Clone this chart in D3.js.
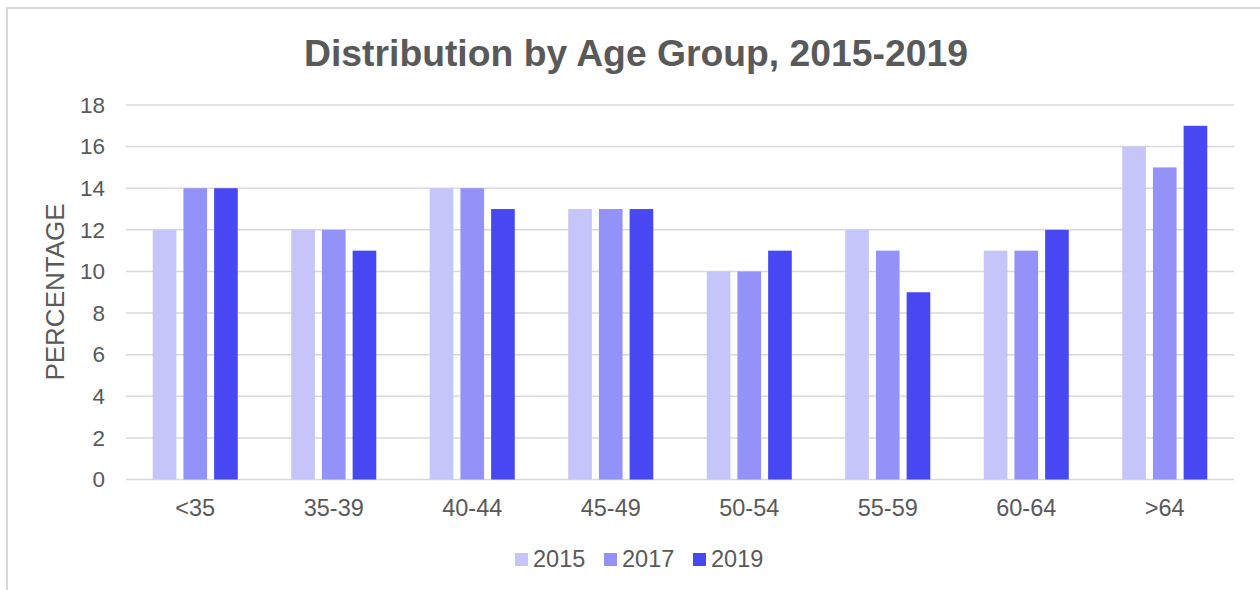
<!DOCTYPE html>
<html>
<head>
<meta charset="utf-8">
<script src="https://cdn.jsdelivr.net/npm/d3@7"></script>
<style>
  body { margin: 0; background: #fff; }
  svg { display: block; font-family: "Liberation Sans", Arial, sans-serif; }
</style>
</head>
<body>
<div id="chart"></div>
<script>
// data
const ageGroups = ["<35", "35-39", "40-44", "45-49", "50-54", "55-59", "60-64", ">64"];
const years = ["2015", "2017", "2019"];
const values2015 = [12, 12, 14, 13, 10, 12, 11, 16];
const values2017 = [14, 12, 14, 13, 10, 11, 11, 15];
const values2019 = [14, 11, 13, 13, 11, 9, 12, 17];
const yTicks = [0, 2, 4, 6, 8, 10, 12, 14, 16, 18];
const yearColors = ["#C5C5FA", "#9292F8", "#4848F2"];

const series = [values2015, values2017, values2019];

const width = 1260, height = 590;
const textColor = "#595959";
const gridColor = "#D9D9D9";

const svg = d3.select("#chart").append("svg")
  .attr("width", width)
  .attr("height", height);

// chart border (only top/left inside the frame)
svg.append("rect")
  .attr("x", 7).attr("y", 8)
  .attr("width", width + 20).attr("height", height + 20)
  .attr("fill", "none")
  .attr("stroke", gridColor)
  .attr("stroke-width", 2);

const plot = { left: 126, right: 1234, top: 105, bottom: 479.5 };

const x0 = d3.scaleBand()
  .domain(ageGroups)
  .range([plot.left, plot.right])
  .paddingInner(0.386)
  .paddingOuter(0.193);

const x1 = d3.scaleBand()
  .domain(years)
  .range([0, x0.bandwidth()])
  .paddingInner(0.23);

const y = d3.scaleLinear()
  .domain([0, 18])
  .range([plot.bottom, plot.top]);

// title
svg.append("text")
  .attr("x", 636)
  .attr("y", 66)
  .attr("text-anchor", "middle")
  .attr("font-size", 37.3)
  .attr("font-weight", "bold")
  .attr("fill", textColor)
  .text("Distribution by Age Group, 2015-2019");

// gridlines
svg.append("g")
  .selectAll("line")
  .data(yTicks)
  .join("line")
  .attr("x1", plot.left)
  .attr("x2", plot.right)
  .attr("y1", d => y(d))
  .attr("y2", d => y(d))
  .attr("stroke", gridColor)
  .attr("stroke-width", 1.5);

// y axis labels
const yAxis = svg.append("g")
  .attr("transform", `translate(${plot.left - 21},0)`)
  .call(d3.axisLeft(y).tickValues(yTicks).tickSize(0).tickPadding(0));
yAxis.select(".domain").remove();
yAxis.selectAll("text")
  .attr("font-size", 22.5)
  .attr("font-family", "Liberation Sans, Arial, sans-serif")
  .attr("fill", textColor);

// bars
const groups = svg.append("g")
  .selectAll("g")
  .data(ageGroups)
  .join("g")
  .attr("transform", d => `translate(${x0(d)},0)`);

groups.selectAll("rect")
  .data((d, i) => years.map((yr, j) => ({ year: yr, value: series[j][i], color: yearColors[j] })))
  .join("rect")
  .attr("x", d => x1(d.year))
  .attr("y", d => y(d.value))
  .attr("width", x1.bandwidth())
  .attr("height", d => y(0) - y(d.value))
  .attr("fill", d => d.color);

// x axis labels
const xAxis = svg.append("g")
  .attr("transform", `translate(0,${plot.bottom})`)
  .call(d3.axisBottom(x0).tickSize(0).tickPadding(20));
xAxis.select(".domain").remove();
xAxis.selectAll("text")
  .attr("font-size", 23.5)
  .attr("font-family", "Liberation Sans, Arial, sans-serif")
  .attr("fill", textColor);

// y axis title
svg.append("text")
  .attr("transform", `translate(64,292) rotate(-90)`)
  .attr("text-anchor", "middle")
  .attr("font-size", 26)
  .attr("fill", textColor)
  .text("PERCENTAGE");

// legend
const legend = svg.append("g")
  .attr("transform", "translate(515,553)");

const items = legend.selectAll("g")
  .data(years)
  .join("g")
  .attr("transform", (d, i) => `translate(${i * 89},0)`);

items.append("rect")
  .attr("width", 13)
  .attr("height", 13)
  .attr("fill", (d, i) => yearColors[i]);

items.append("text")
  .attr("x", 18)
  .attr("y", 14)
  .attr("font-size", 23.5)
  .attr("fill", textColor)
  .text(d => d);
</script>
</body>
</html>
